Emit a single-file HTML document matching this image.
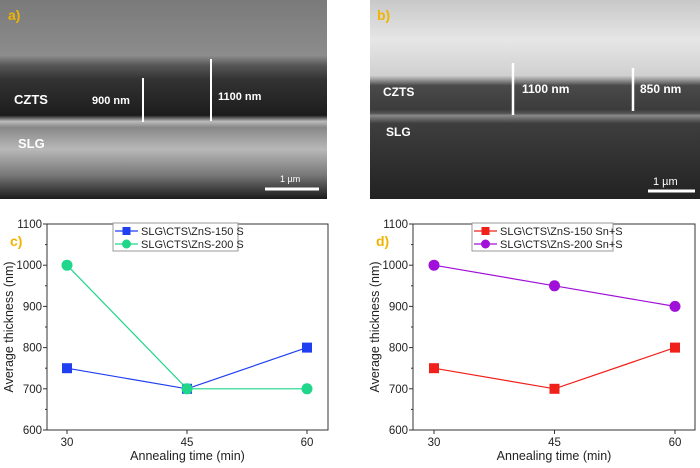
<!DOCTYPE html>
<html><head><meta charset="utf-8">
<style>
body{margin:0;width:700px;height:463px;background:#fff;overflow:hidden;font-family:"Liberation Sans",sans-serif}
svg text{font-family:"Liberation Sans",sans-serif}
</style></head>
<body>
<svg width="700" height="463" viewBox="0 0 700 463" xmlns="http://www.w3.org/2000/svg">
<defs>
<linearGradient id="ga" x1="0" y1="0" x2="0" y2="1">
<stop offset="0" stop-color="#7a7a7a"/><stop offset="0.28" stop-color="#8c8c8c"/>
<stop offset="0.33" stop-color="#555"/><stop offset="0.4" stop-color="#333"/>
<stop offset="0.58" stop-color="#1c1c1c"/><stop offset="0.61" stop-color="#bbb"/>
<stop offset="0.64" stop-color="#888"/><stop offset="0.75" stop-color="#b8b8b8"/>
<stop offset="0.88" stop-color="#777"/><stop offset="1" stop-color="#1a1a1a"/>
</linearGradient>
<linearGradient id="gb" x1="0" y1="0" x2="0" y2="1">
<stop offset="0" stop-color="#c8c8c8"/><stop offset="0.2" stop-color="#e6e6e6"/>
<stop offset="0.38" stop-color="#d0d0d0"/><stop offset="0.43" stop-color="#4a4a4a"/>
<stop offset="0.55" stop-color="#3c3c3c"/><stop offset="0.57" stop-color="#555"/>
<stop offset="0.58" stop-color="#8a8a8a"/><stop offset="0.62" stop-color="#3e3e3e"/>
<stop offset="1" stop-color="#222"/>
</linearGradient>
</defs>
<g>
<rect x="0" y="0" width="327" height="199" fill="url(#ga)"/>
<text x="8" y="20" font-size="14" font-weight="bold" fill="#f0b400">a)</text>
<text x="14" y="104" font-size="13" font-weight="bold" fill="#fff">CZTS</text>
<text x="18" y="148" font-size="13" font-weight="bold" fill="#fff">SLG</text>
<line x1="143" y1="78" x2="143" y2="122" stroke="#fff" stroke-width="2"/>
<line x1="211" y1="59" x2="211" y2="121" stroke="#fff" stroke-width="2"/>
<text x="92" y="104" font-size="11" font-weight="bold" fill="#fff">900 nm</text>
<text x="218" y="100" font-size="11" font-weight="bold" fill="#fff">1100 nm</text>
<text x="280" y="182" font-size="9" fill="#fff">1 µm</text>
<line x1="265" y1="189" x2="319" y2="189" stroke="#fff" stroke-width="3"/>
</g>
<g>
<rect x="370" y="0" width="330" height="199" fill="url(#gb)"/>
<text x="377" y="20" font-size="14" font-weight="bold" fill="#f0b400">b)</text>
<text x="383" y="96" font-size="12" font-weight="bold" fill="#fff">CZTS</text>
<text x="386" y="136" font-size="12" font-weight="bold" fill="#fff">SLG</text>
<line x1="513" y1="63" x2="513" y2="115" stroke="#fff" stroke-width="2.5"/>
<line x1="633" y1="68" x2="633" y2="111" stroke="#fff" stroke-width="2.5"/>
<text x="522" y="93" font-size="12" font-weight="bold" fill="#fff">1100 nm</text>
<text x="640" y="93" font-size="12" font-weight="bold" fill="#fff">850 nm</text>
<text x="653" y="185" font-size="11" fill="#fff">1 µm</text>
<line x1="648" y1="191" x2="695" y2="191" stroke="#fff" stroke-width="3"/>
</g>
<g id="charts"></g>
</svg>
<script>
const xCats=[30,45,60];
const yTicks=[600,700,800,900,1000,1100];
const c150=[750,700,800];
const c200=[1000,700,700];
const d150=[750,700,800];
const d200=[1000,950,900];
const NS="http://www.w3.org/2000/svg";
const root=document.getElementById('charts');
function mk(tag,attrs,parent){const e=document.createElementNS(NS,tag);for(const k in attrs)e.setAttribute(k,attrs[k]);(parent||root).appendChild(e);return e;}
function chart(cfg){
  const g=mk('g',{});
  
  
  const L=cfg.left,R=cfg.right,T=224,B=430;
  const yS=v=>B-(v-600)/500*(B-T);
  const xS=v=>cfg.x30+(v-30)/15*cfg.step;
  mk('rect',{x:L,y:T,width:R-L,height:B-T,fill:'none',stroke:'#333','stroke-width':1},g);
  yTicks.forEach(v=>{
    mk('line',{x1:L-4,y1:yS(v),x2:L,y2:yS(v),stroke:'#333'},g);
    if(v<1100)mk('line',{x1:L-2,y1:yS(v+50),x2:L,y2:yS(v+50),stroke:'#333'},g);
    const t=mk('text',{x:L-5,y:yS(v)+4,'font-size':11.5,'text-anchor':'end',fill:'#222'},g);t.textContent=v;
  });
  xCats.forEach(v=>{
    mk('line',{x1:xS(v),y1:B,x2:xS(v),y2:B+4,stroke:'#333'},g);
    const t=mk('text',{x:xS(v),y:446,'font-size':11.5,'text-anchor':'middle',fill:'#222'},g);t.textContent=v;
  });
  const xt=mk('text',{x:(L+R)/2,y:460,'font-size':12.5,'text-anchor':'middle',fill:'#222'},g);xt.textContent='Annealing time (min)';
  
  
  const yt=mk('text',{x:0,y:0,'font-size':12.5,'text-anchor':'middle',fill:'#222',transform:`translate(${L-34},${(T+B)/2}) rotate(-90)`},g);yt.textContent='Average thickness (nm)';
  
  
  const lb=mk('text',{x:L-37,y:246,'font-size':14,'font-weight':'bold',fill:'#f0b400'},g);lb.textContent=cfg.label;
  cfg.series.forEach(s=>{
    const pts=s.vals.map((v,i)=>xS(xCats[i])+','+yS(v)).join(' ');
    const pl=mk('polyline',{points:pts,fill:'none',stroke:s.color,'stroke-width':1.2},g);
    
    
    s.vals.forEach((v,i)=>{
      const x=xS(xCats[i]),y=yS(v);
      const m=s.shape==='sq'?mk('rect',{x:x-5,y:y-5,width:10,height:10,fill:s.color},g):mk('circle',{cx:x,cy:y,r:5.5,fill:s.color},g);
      
      
    });
  });
  const lg=mk('g',{},g);
  
  
  mk('rect',{x:cfg.lx,y:T-1,width:cfg.lw,height:28,fill:'#fff',stroke:'#999'},lg);
  cfg.series.forEach((s,i)=>{
    const y=T+7+i*13;
    mk('line',{x1:cfg.lx+2,y1:y,x2:cfg.lx+25,y2:y,stroke:s.color,'stroke-width':1.2},lg);
    if(s.shape==='sq')mk('rect',{x:cfg.lx+9.5,y:y-4,width:8,height:8,fill:s.color},lg);
    else mk('circle',{cx:cfg.lx+13.5,cy:y,r:4.5,fill:s.color},lg);
    const t=mk('text',{x:cfg.lx+28,y:y+4,'font-size':11,fill:'#222'},lg);t.textContent=s.label;
    
    
  });
}
chart({name:'chart-c',label:'c)',left:47,right:328,x30:67,step:120,lx:113,lw:125,
 series:[{id:'zns150-s',vals:c150,color:'#1f3ff0',shape:'sq',label:'SLG\\CTS\\ZnS-150 S'},
         {id:'zns200-s',vals:c200,color:'#1fd68a',shape:'ci',label:'SLG\\CTS\\ZnS-200 S'}]});
chart({name:'chart-d',label:'d)',left:413,right:695,x30:434,step:120.5,lx:472,lw:141,
 series:[{id:'zns150-sns',vals:d150,color:'#f0201a',shape:'sq',label:'SLG\\CTS\\ZnS-150 Sn+S'},
         {id:'zns200-sns',vals:d200,color:'#a010d8',shape:'ci',label:'SLG\\CTS\\ZnS-200 Sn+S'}]});
</script>
</body></html>
